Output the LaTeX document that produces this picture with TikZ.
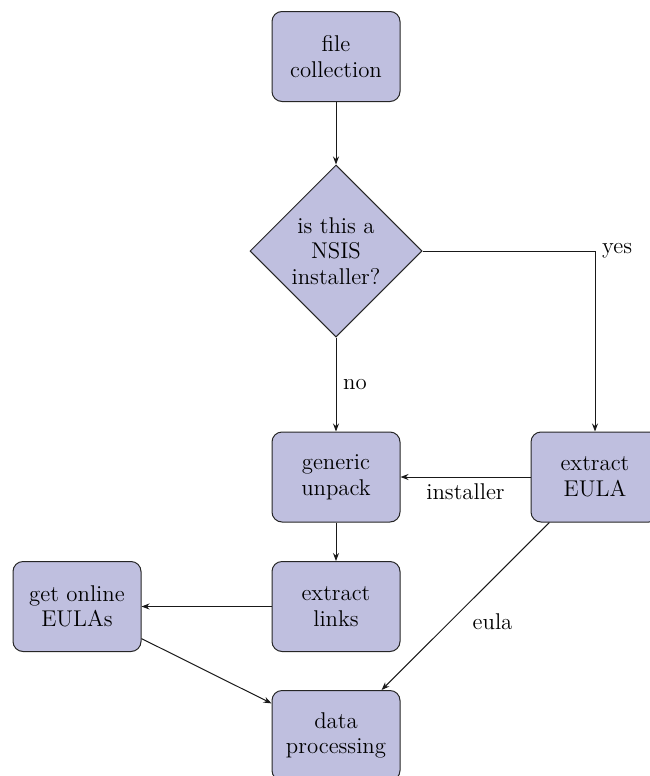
\documentclass[tikz,border=0pt]{standalone}
\usetikzlibrary{shapes.geometric,arrows.meta}
\definecolor{boxfill}{RGB}{191,191,223}
\begin{document}
\begin{tikzpicture}[x=0.5pt,y=-0.5pt,
  font=\fontsize{11.4}{12.8}\selectfont,
  procbox/.style={draw=black!85, fill=boxfill, rounded corners=5pt, line width=0.5pt,
    minimum width=64pt, minimum height=45pt, align=center, inner sep=0pt},
  decbox/.style={draw=black!85, fill=boxfill, diamond, line width=0.5pt,
    minimum width=86pt, minimum height=86pt, align=center, inner sep=0pt},
  conn/.style={draw=black!90, line width=0.5pt, -{Stealth[length=4pt,width=3pt]}}]
\useasboundingbox (0,0) rectangle (649,776);
\node[procbox] (fc) at (336,56.5) {file\\collection};
\node[decbox] (dia) at (336,251) {is this a\\NSIS\\installer?};
\node[procbox] (gu) at (336,477) {generic\\unpack};
\node[procbox] (ee) at (595,477) {extract\\EULA};
\node[procbox] (el) at (336,606.5) {extract\\links};
\node[procbox] (go) at (77,606.5) {get online\\EULAs};
\node[procbox] (dp) at (336,735.5) {data\\processing};
\draw[conn] (fc) -- (dia);
\draw[conn] (dia.east) -| node[right] {yes} (ee.north);
\draw[conn] (dia) -- node[right] {no} (gu);
\draw[conn] (ee) -- node[below] {installer} (gu);
\draw[conn] (gu) -- (el);
\draw[conn] (el) -- (go);
\draw[conn] (go) -- (dp);
\draw[conn] (ee) -- node[below right] {eula} (dp);
\end{tikzpicture}
\end{document}
